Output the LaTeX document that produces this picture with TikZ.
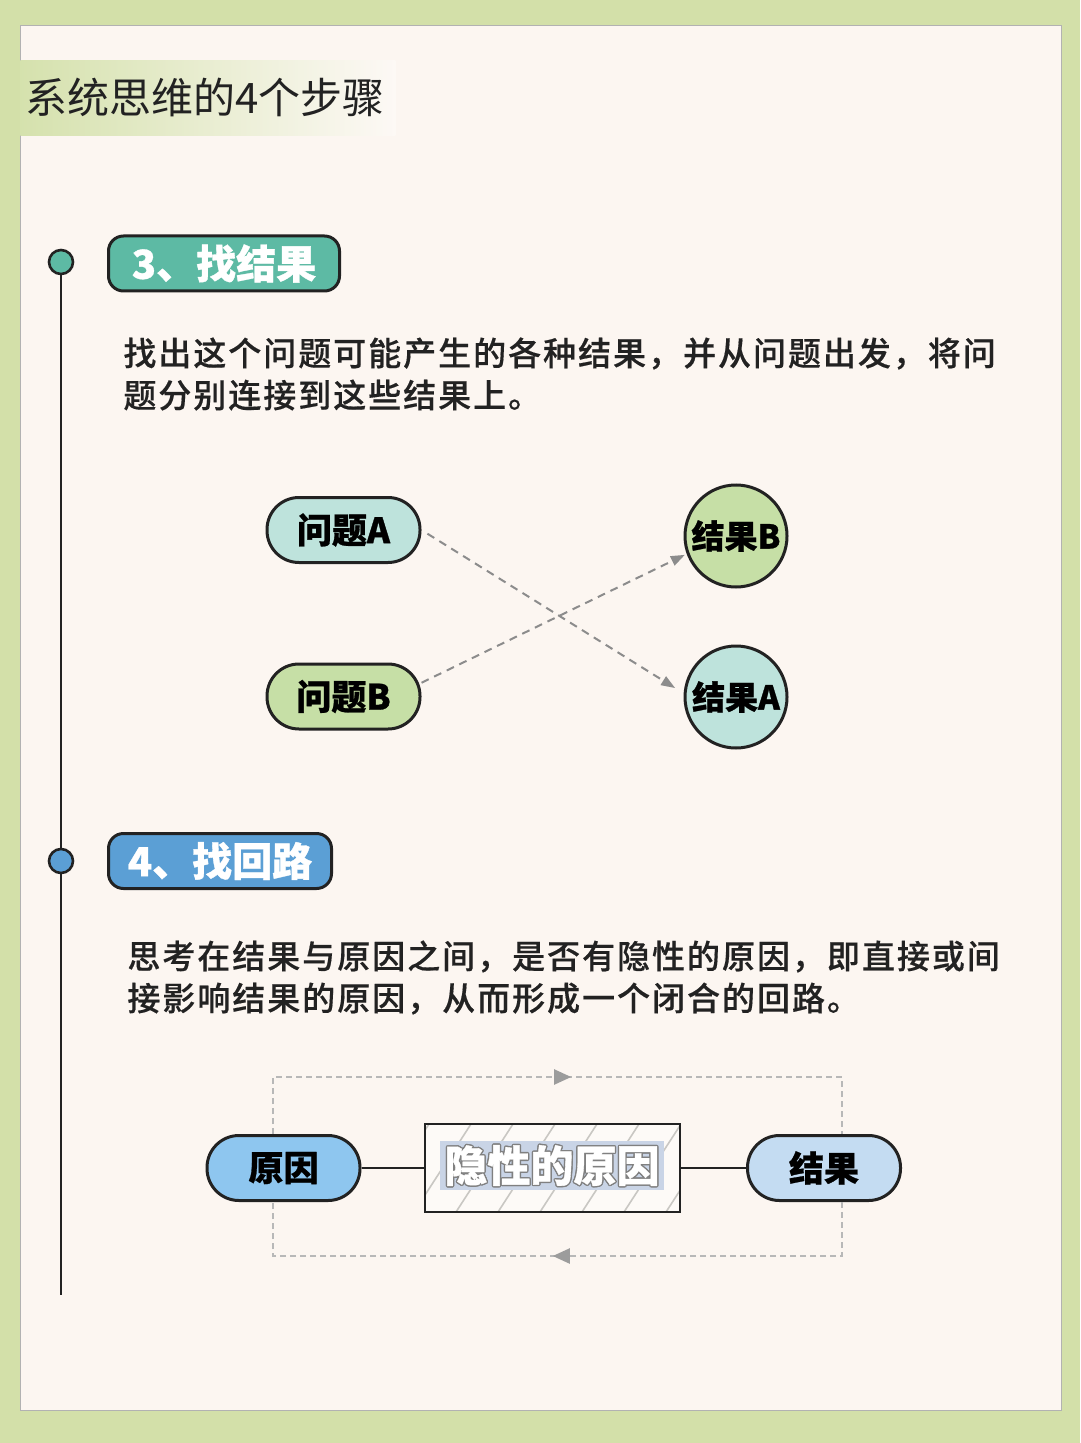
\documentclass[tikz,border=0pt]{standalone}
\usepackage{fontspec}
\setmainfont{Noto Sans CJK SC}
\newfontfamily\bodyfont{Noto Sans CJK SC Medium}[LetterSpace=6, FakeBold=0.4]
\newfontfamily\heavyfont{Noto Sans CJK SC}[BoldFeatures={FakeBold=0.8}]
\usetikzlibrary{arrows.meta, positioning, decorations.markings}

\definecolor{outergreen}{HTML}{D3E0A9}
\definecolor{paper}{HTML}{FCF6F1}
\definecolor{tealhead}{HTML}{5DBAA4}
\definecolor{bluehead}{HTML}{5B9FD5}
\definecolor{tealsoft}{HTML}{BEE3DC}
\definecolor{greensoft}{HTML}{C6DFA6}
\definecolor{causeblue}{HTML}{8EC6EF}
\definecolor{effectblue}{HTML}{C4DCF2}
\definecolor{hidebg}{HTML}{C9D4E6}
\definecolor{inkdark}{HTML}{222222}
\definecolor{arrowgray}{HTML}{8C8C8C}
\definecolor{loopgray}{HTML}{B8B8B8}
\definecolor{looptip}{HTML}{9C9C9C}
\definecolor{hatchgray}{HTML}{C9C7C3}

\begin{document}
\begin{tikzpicture}[x=0.5pt, y=-0.5pt,
	every node/.style={inner sep=0pt},
	stepbox/.style={draw=inkdark, line width=1.5pt, rounded corners=7.5pt,
		minimum height=27.5pt, text=white, font=\heavyfont\bfseries\fontsize{20}{24}\selectfont},
	body/.style={anchor=west, align=left, text=inkdark,
		font=\bodyfont\fontsize{16.5}{21}\selectfont},
	pill/.style={draw=inkdark, line width=1.5pt, rounded corners=16pt,
		minimum width=76.5pt, minimum height=32.5pt, font=\heavyfont\bfseries\fontsize{17.5}{20}\selectfont},
	ball/.style={circle, draw=inkdark, line width=1.5pt, minimum size=51pt,
		font=\heavyfont\bfseries\fontsize{16.5}{20}\selectfont},
	dot/.style={circle, draw=inkdark, line width=1.3pt, minimum size=12pt},
	spine/.style={draw=inkdark, line width=1.2pt},
	arr/.style={-{Triangle[length=7pt,width=5pt]}, draw=arrowgray, line width=1pt,
		dash pattern=on 4pt off 3pt},
	loopline/.style={draw=loopgray, line width=1.1pt, dash pattern=on 3pt off 2pt,
		postaction={decorate}, decoration={markings,
			mark=at position #1 with {\arrow[looptip]{Triangle[length=8.5pt,width=7.5pt]}}}},
	hidtxt/.style={font=\heavyfont\bfseries\fontsize{21.5}{24}\selectfont},
	]
	% Background and panel
	\fill[outergreen] (0,0) rectangle (1080,1443);
	\draw[fill=paper, draw=gray!60, line width=0.5pt] (20,26) rectangle (1061,1410);
	\useasboundingbox (0,0) rectangle (1080,1443);

	% Title
	\node[anchor=north west, minimum width=187.5pt, minimum height=37.5pt,
		left color=outergreen!95!white, right color=paper!70!white] (titlebar) at (20,60) {};
	\node[anchor=west, text=inkdark, font=\fontsize{21}{25}\selectfont] (title) at (25,97) {系统思维的4个步骤};

	% Timeline
	\node[dot, fill=tealhead] (dot3) at (61,262) {};
	\node[dot, fill=bluehead] (dot4) at (61,861) {};
	\coordinate (spineEnd) at (61,1295);
	\draw[spine] (dot3) -- (dot4);
	\draw[spine] (dot4) -- (spineEnd);

	% Step 3
	\node[stepbox, fill=tealhead, minimum width=115.5pt, anchor=west] (step3) at (107,263.5) {3、找结果};
	\node[body] (text3) at (123,374) {找出这个问题可能产生的各种结果，并从问题出发，将问\\题分别连接到这些结果上。};

	\node[pill, fill=tealsoft] (probA) at (343.5,530) {问题A};
	\node[pill, fill=greensoft] (probB) at (343.5,696.5) {问题B};
	\node[ball, fill=greensoft] (resB) at (736,536) {结果B};
	\node[ball, fill=tealsoft] (resA) at (736,697) {结果A};

	\draw[arr, shorten <=3.5pt, shorten >=5pt] (probA.east) -- (resA.176);
	\draw[arr, shorten >=1pt] (probB.10) -- (resB.200);

	% Step 4
	\node[stepbox, fill=bluehead, minimum width=111.5pt, anchor=west] (step4) at (107,861) {4、找回路};
	\node[body] (text4) at (127,977.5) {思考在结果与原因之间，是否有隐性的原因，即直接或间\\接影响结果的原因，从而形成一个闭合的回路。};

	\node[pill, fill=causeblue] (cause) at (283.5,1168) {原因};
	\node[pill, fill=effectblue] (effect) at (824,1168) {结果};
	\node[fill=paper!60!white, minimum width=127.5pt, minimum height=44pt] (hidden) at (552.5,1168) {};
	\begin{scope}
		\clip (hidden.south west) rectangle (hidden.north east);
		\foreach \x in {330,372,...,720}
			\draw[hatchgray, line width=0.8pt] (\x,1212) -- ++(57,-88);
	\end{scope}
	\draw[inkdark, line width=1pt] (hidden.south west) rectangle (hidden.north east);
	\node[fill=hidebg, minimum width=112pt, minimum height=24.5pt] (hidbg) at (552,1165.5) {};
	\foreach \dx/\dy [count=\k] in {0.7/0, -0.7/0, 0/0.7, 0/-0.7, 0.5/0.5, -0.5/0.5, 0.5/-0.5, -0.5/-0.5}
		\node[hidtxt, text=gray, xshift=\dx pt, yshift=\dy pt] (hidline\k) at (hidbg) {隐性的原因};
	\node[hidtxt, text=white] (hidlabel) at (hidbg) {隐性的原因};

	\draw[inkdark, line width=1.2pt] (cause.east) -- (hidden.west);
	\draw[inkdark, line width=1.2pt] (hidden.east) -- (effect.west);

	% Loop
	\coordinate (loopL) at (273,1077);
	\coordinate (loopR) at (842,1256);
	\draw[loopline=0.52] (cause.north -| loopL) -- (loopL) -- (loopL -| loopR) -- (effect.north -| loopR);
	\draw[loopline=0.507] (effect.south -| loopR) -- (loopR) -- (loopR -| loopL) -- (cause.south -| loopL);
\end{tikzpicture}
\end{document}
